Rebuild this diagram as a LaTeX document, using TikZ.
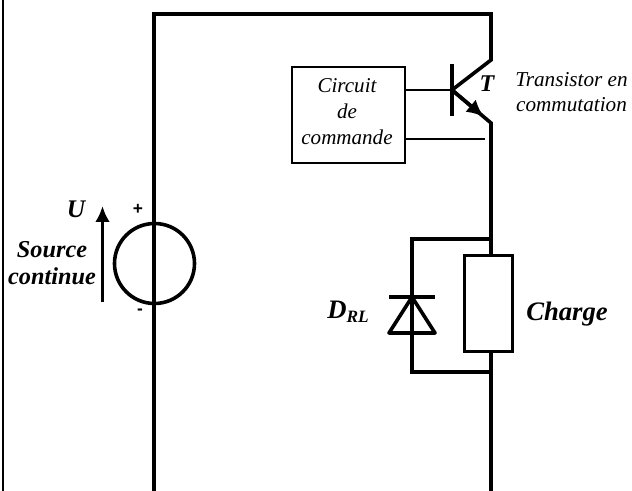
\documentclass[tikz,border=0pt]{standalone}
\usepackage{fontspec}
\usetikzlibrary{arrows.meta}
\setmainfont{Liberation Serif}
\newfontfamily\signfont{Liberation Sans}
\tikzset{
  wire/.style={line width=2.7pt},
  thinwire/.style={line width=1.2pt},
  lbl/.style={font=\itshape\fontsize{15.8}{19.5}\selectfont,align=center,inner sep=0pt},
  boldlbl/.style={font=\bfseries\itshape\fontsize{19}{20}\selectfont,align=center,inner sep=0pt},
  signlbl/.style={font=\signfont\bfseries\fontsize{13}{13}\selectfont,inner sep=0pt}
}
\begin{document}
\begin{tikzpicture}[x=0.75pt,y=-0.75pt]
  \useasboundingbox (0,0) rectangle (632,491);
  % frame
  \draw[line width=1.5pt] (3,491) -- (3,0);
  % corners
  \coordinate (bl) at (154,491);
  \coordinate (tl) at (154,14);
  \coordinate (tr) at (491,14);
  \coordinate (col) at (491,60);
  \coordinate (em) at (491,123);
  \coordinate (br) at (491,491);
  \coordinate (base) at (452,90);
  \coordinate (dtop) at (491,239);
  \coordinate (dbot) at (491,372);
  % rails
  \draw[wire] (bl) -- (tl) -- (tr) -- (col) -- (base) -- (em) -- (br);
  \draw[wire] (452,64) -- (452,116);
  \draw[wire,-{Latex[length=13pt,width=12pt]}] (base) -- (484,117);
  % control
  \node[draw,line width=1.2pt,minimum width=84.75pt,minimum height=72pt] (cmd) at (348.5,115) {};
  \node[lbl] (cmdtxt) at (347,112) {Circuit\\de\\commande};
  \draw[thinwire] (cmd.east |- base) -- (base);
  \draw[thinwire] (cmd.east |- 0,139) -- (485,139);
  % source
  \node[circle,draw,line width=2.7pt,minimum size=60pt,inner sep=0pt] (src) at (154.5,263.5) {};
  \draw[line width=2.2pt,-{Latex[length=12pt,width=11pt]}] (102.5,302) -- (102.5,206);
  \node[boldlbl] (u) at (76,209) {U};
  \node[boldlbl,font=\bfseries\itshape\fontsize{18.2}{20}\selectfont] (srclbl) at (52,263) {Source\\continue};
  \node[signlbl] (plus) at (138,209) {+};
  \node[signlbl] (minus) at (140,312) {-};
  % diode and load
  \draw[wire] (dtop) -- (412,239) -- (412,372) -- (dbot);
  \draw[wire] (389,297) -- (435,297);
  \draw[wire,line join=round] (412,297) -- (435,333) -- (389,333) -- cycle;
  \node[draw,line width=2.7pt,fill=white,minimum width=36pt,minimum height=72pt] (load) at (488.5,303.5) {};
  % labels
  \node[boldlbl,anchor=base west,font=\bfseries\itshape\fontsize{20}{20}\selectfont] (charge) at (526,320.5) {Charge};
  \node[boldlbl,anchor=base west,font=\bfseries\itshape\fontsize{20}{20}\selectfont] (drl) at (327,319) {D\raisebox{-2.5pt}{\fontsize{13}{13}\selectfont RL}};
  \node[boldlbl,font=\bfseries\itshape\fontsize{18}{20}\selectfont] (tlbl) at (487,84) {T};
  \node[lbl,anchor=west,font=\itshape\fontsize{15.9}{19}\selectfont] (trans) at (515,92) {Transistor en\\commutation};
\end{tikzpicture}
\end{document}
